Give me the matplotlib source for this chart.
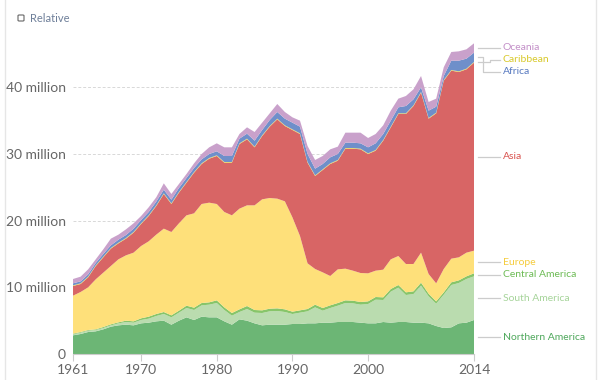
import matplotlib
matplotlib.use('Agg')
import matplotlib.pyplot as plt
from matplotlib.patches import FancyBboxPatch
from matplotlib.lines import Line2D

plt.rcParams['font.family'] = ['Lato', 'DejaVu Sans']

years = list(range(1961, 2015))

# values in million
northern_america = [2.8, 3.0, 3.3, 3.4, 3.7, 4.1, 4.3, 4.4, 4.3, 4.6,
                    4.7, 4.9, 5.0, 4.4, 5.0, 5.5, 5.1, 5.6, 5.5, 5.5,
                    4.9, 4.4, 5.2, 5.0, 4.6, 4.3, 4.4, 4.4, 4.4, 4.5,
                    4.5, 4.6, 4.6, 4.7, 4.7, 4.8, 4.8, 4.8, 4.7, 4.6,
                    4.6, 4.8, 4.7, 4.8, 4.8, 4.7, 4.7, 4.6, 4.2, 3.9,
                    4.0, 4.6, 4.7, 5.1]
south_america = [0.15, 0.2, 0.2, 0.2, 0.2, 0.2, 0.3, 0.4, 0.4, 0.5,
                 0.6, 0.8, 1.0, 1.1, 1.2, 1.4, 1.5, 1.7, 1.9, 2.15,
                 1.7, 1.35, 1.1, 1.75, 1.6, 1.85, 2.0, 2.05, 1.9, 1.5,
                 1.7, 1.8, 2.4, 1.8, 2.2, 2.45, 2.85, 2.8, 2.7, 2.9,
                 3.55, 3.3, 4.65, 5.15, 4.05, 4.3, 5.55, 4.05, 3.35, 5.0,
                 6.35, 6.05, 6.55, 6.55]
central_america = [0.1, 0.1, 0.1, 0.1, 0.15, 0.15, 0.15, 0.2, 0.2, 0.25,
                   0.3, 0.3, 0.3, 0.3, 0.3, 0.35, 0.35, 0.35, 0.35, 0.4,
                   0.4, 0.4, 0.4, 0.45, 0.4, 0.4, 0.4, 0.4, 0.4, 0.35,
                   0.35, 0.35, 0.4, 0.4, 0.4, 0.4, 0.4, 0.4, 0.4, 0.4,
                   0.4, 0.4, 0.4, 0.4, 0.4, 0.4, 0.45, 0.4, 0.35, 0.35,
                   0.4, 0.4, 0.4, 0.45]
europe = [5.7, 6.0, 6.4, 7.5, 8.15, 8.75, 9.45, 9.8, 10.3, 10.85,
          11.3, 11.9, 12.5, 12.5, 13.1, 13.55, 14.15, 14.85, 14.95, 14.45,
          14.3, 14.65, 15.1, 15.1, 15.7, 16.65, 16.6, 16.45, 16.2, 14.15,
          11.15, 6.85, 5.35, 5.35, 4.4, 5.05, 4.75, 4.5, 4.35, 4.2,
          3.95, 4.15, 4.45, 4.35, 4.25, 4.1, 4.5, 2.95, 2.7, 3.5,
          3.55, 3.45, 3.55, 3.4]
asia = [1.45, 1.2, 1.5, 2.0, 2.3, 2.6, 2.4, 2.5, 3.0, 3.3,
        3.8, 4.3, 5.2, 4.2, 4.6, 4.9, 6.1, 6.0, 6.6, 7.2,
        7.4, 7.9, 9.7, 9.9, 8.7, 9.5, 10.7, 11.9, 11.3, 13.1,
        15.3, 15.1, 13.95, 15.35, 16.8, 16.3, 18.0, 18.3, 18.55, 17.9,
        18.0, 19.35, 19.8, 21.3, 22.5, 23.7, 24.0, 23.3, 25.5, 28.25,
        28.2, 27.8, 27.5, 28.2]
caribbean = [0.1] * 54
africa = [0.3, 0.3, 0.35, 0.35, 0.4, 0.4, 0.45, 0.45, 0.5, 0.5,
          0.5, 0.55, 0.55, 0.55, 0.6, 0.6, 0.6, 0.6, 0.6, 0.6,
          0.9, 0.9, 0.7, 0.75, 0.9, 0.8, 0.9, 1.0, 1.0, 1.0,
          1.0, 1.2, 1.0, 0.8, 0.9, 0.9, 0.8, 0.8, 0.8, 0.9,
          1.0, 0.9, 0.9, 0.9, 1.1, 0.9, 0.7, 1.1, 0.9, 0.6,
          1.4, 1.6, 1.5, 1.4]
oceania = [0.65, 0.7, 0.75, 0.55, 0.7, 1.0, 0.75, 0.85, 0.8, 0.6,
           0.7, 0.65, 0.95, 0.85, 0.6, 0.6, 0.7, 0.8, 1.0, 1.2,
           1.3, 1.3, 0.7, 0.95, 1.3, 1.1, 1.0, 1.2, 1.0, 0.8,
           0.9, 1.2, 1.3, 1.2, 1.2, 1.1, 1.5, 1.5, 1.6, 1.4,
           1.4, 1.3, 1.5, 1.3, 1.5, 1.5, 1.7, 1.3, 1.2, 1.3,
           1.3, 1.4, 1.4, 1.4]

names = ['Northern America', 'South America', 'Central America', 'Europe',
         'Asia', 'Caribbean', 'Africa', 'Oceania']
series = [northern_america, south_america, central_america, europe,
          asia, caribbean, africa, oceania]
fills = ['#6cb675', '#badcaf', '#87c56a', '#fee07a',
         '#d86565', '#e6d84a', '#6f8fca', '#c9a1cb']
text_colors = ['#4fa85c', '#a6d49a', '#6dbb55', '#f5cc3c',
               '#d9534f', '#d8c92a', '#5779c0', '#c38fc8']

fig = plt.figure(figsize=(6, 3.8), dpi=100)
ax = fig.add_axes([0.1217, 0.0684, 0.6683, 0.8334])

ax.stackplot(years, [[v * 1e6 for v in s] for s in series],
             colors=fills, linewidth=0)

ax.set_xlim(1961, 2014)
ax.set_ylim(0, 47.5e6)
ax.set_yticks([0, 10e6, 20e6, 30e6, 40e6])
ax.set_yticklabels(['0', '10 million', '20 million', '30 million', '40 million'])
ax.set_xticks([1961, 1970, 1980, 1990, 2000, 2014])
ax.tick_params(axis='y', length=0, pad=5, labelsize=10, labelcolor='#666666')
ax.tick_params(axis='x', length=5, color='#cccccc', width=0.8, pad=2,
               labelsize=10, labelcolor='#666666')
for sp in ['top', 'right', 'left']:
    ax.spines[sp].set_visible(False)
ax.spines['bottom'].set_color('#cccccc')
ax.spines['bottom'].set_linewidth(0.8)

for v in [10e6, 20e6, 30e6, 40e6]:
    ax.axhline(v, color='#d8d8d8', linestyle=(0, (3, 2)), linewidth=0.7, zorder=0)

# series labels on the right, at the middle of each band in 2014
bottom = 0
mids = []
for s in series:
    mids.append((bottom + s[-1] / 2) * 1e6)
    bottom += s[-1]
label_y = mids[:5] + [mids[7] - 1.8e6, mids[7] - 3.55e6, mids[7]]
bend_x = [2016.0, 2016.0, 2016.0, 2016.0, 2016.0, 2016.1, 2015.2, 2016.0]
for name, c, m, ly, bx in zip(names, text_colors, mids, label_y, bend_x):
    ax.add_line(Line2D([2014.5, bx, bx, 2017.4], [m, m, ly, ly],
                       color='#cccccc', linewidth=0.9, clip_on=False))
    ax.text(2017.8, ly, name, color=c, fontsize=7.5, va='center',
            ha='left', clip_on=False)

# "Relative" checkbox
fig.patches.append(FancyBboxPatch((18 / 600, 1 - 21 / 380), 6 / 600, 6 / 380,
                                  boxstyle='round,pad=0,rounding_size=0.002',
                                  transform=fig.transFigure, fill=False,
                                  edgecolor='#666666', linewidth=0.8))
fig.text(30 / 600, 1 - 18 / 380, 'Relative', color='#6e7f99', fontsize=8,
         va='center', ha='left')

# frame edges
fig.add_artist(Line2D([5 / 600, 5 / 600], [0, 1], color='#e6e6e6',
                      linewidth=1, transform=fig.transFigure))
fig.add_artist(Line2D([596 / 600, 596 / 600], [0, 1], color='#e6e6e6',
                      linewidth=1, transform=fig.transFigure))

fig.savefig('out.png', dpi=100)
